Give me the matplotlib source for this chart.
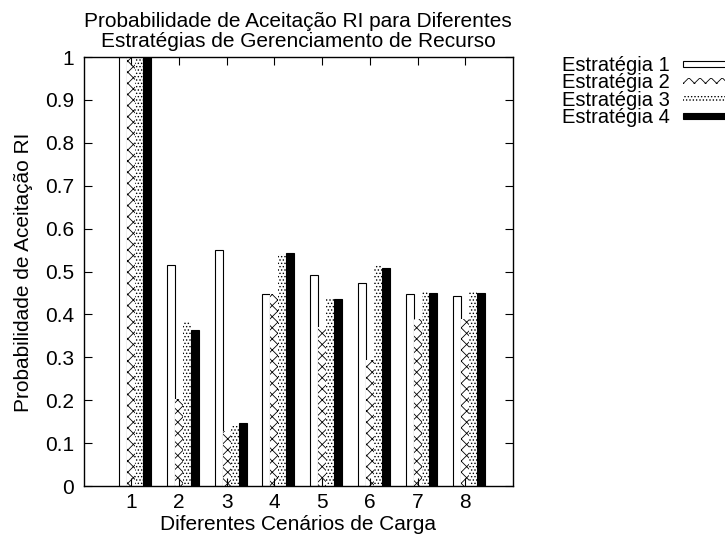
import numpy as np
import matplotlib
matplotlib.use("Agg")
import matplotlib.pyplot as plt
from matplotlib.patches import Rectangle

plt.rcParams['font.family'] = ['Liberation Sans', 'DejaVu Sans']
plt.rcParams['hatch.linewidth'] = 0.6

# dados
cenarios = [1, 2, 3, 4, 5, 6, 7, 8]
estrategia_1 = [1.0, 0.516, 0.551, 0.447, 0.491, 0.474, 0.447, 0.443]
estrategia_2 = [1.0, 0.202, 0.128, 0.447, 0.370, 0.293, 0.390, 0.390]
estrategia_3 = [1.0, 0.384, 0.140, 0.540, 0.437, 0.516, 0.454, 0.454]
estrategia_4 = [1.0, 0.363, 0.147, 0.542, 0.437, 0.509, 0.449, 0.451]
nomes = ["Estratégia 1", "Estratégia 2", "Estratégia 3", "Estratégia 4"]

series = [estrategia_1, estrategia_2, estrategia_3, estrategia_4]
estilos = [
    dict(facecolor="white", edgecolor="black", linewidth=0.8, hatch=None),
    dict(facecolor="white", edgecolor="black", linewidth=0, hatch="xxx"),
    dict(facecolor="white", edgecolor="black", linewidth=0, hatch="....."),
    dict(facecolor="black", edgecolor="black", linewidth=0.8, hatch=None),
]

W, H = 725, 537
FS = 15
fig = plt.figure(figsize=(7.25, 5.37), dpi=100)
ax = fig.add_axes([83.5 / W, 1 - 486 / H, (513 - 83.5) / W, (486 - 57) / H])

largura = 1 / 6
x = np.array(cenarios)
for k, (vals, st) in enumerate(zip(series, estilos)):
    ax.bar(x - 0.25 + k * largura, vals, width=largura, align="edge", **st)

ax.set_xlim(0, 9)
ax.set_ylim(0, 1)
ax.set_xticks(cenarios)
ax.set_yticks(np.arange(0, 1.01, 0.1))
ax.set_yticklabels(["0", "0.1", "0.2", "0.3", "0.4", "0.5", "0.6", "0.7", "0.8", "0.9", "1"])
ax.tick_params(direction="in", top=True, right=True, length=6, width=0.8, labelsize=FS)
ax.tick_params(axis="y", pad=7)
ax.tick_params(axis="x", pad=5)
for s in ax.spines.values():
    s.set_linewidth(1)

# títulos
cx = (83.5 + 513) / 2 / W
fig.text(cx, 1 - 26.7 / H, "Probabilidade de Aceitação RI para Diferentes", ha="center", va="baseline", fontsize=FS)
fig.text(cx, 1 - 46.7 / H, "Estratégias de Gerenciamento de Recurso", ha="center", va="baseline", fontsize=FS)
fig.text(cx, 1 - 530 / H, "Diferentes Cenários de Carga", ha="center", va="baseline", fontsize=FS)
fig.text(24 / W, 1 - 272 / H, "Probabilidade de Aceitação RI", ha="center", va="center", rotation=90, fontsize=FS)

# legenda manual (estilo gnuplot)
for k, (nome, st) in enumerate(zip(nomes, estilos)):
    base = 70.5 + k * 17.5
    fig.text(562 / W, 1 - base / H, nome, ha="left", va="baseline", fontsize=14.5)
    cy = base - 7
    r = Rectangle((683 / W, 1 - (cy + 3) / H), 50 / W, 6 / H, transform=fig.transFigure,
                  clip_on=False, **st)
    fig.patches.append(r)

fig.savefig("out.png", dpi=100)
